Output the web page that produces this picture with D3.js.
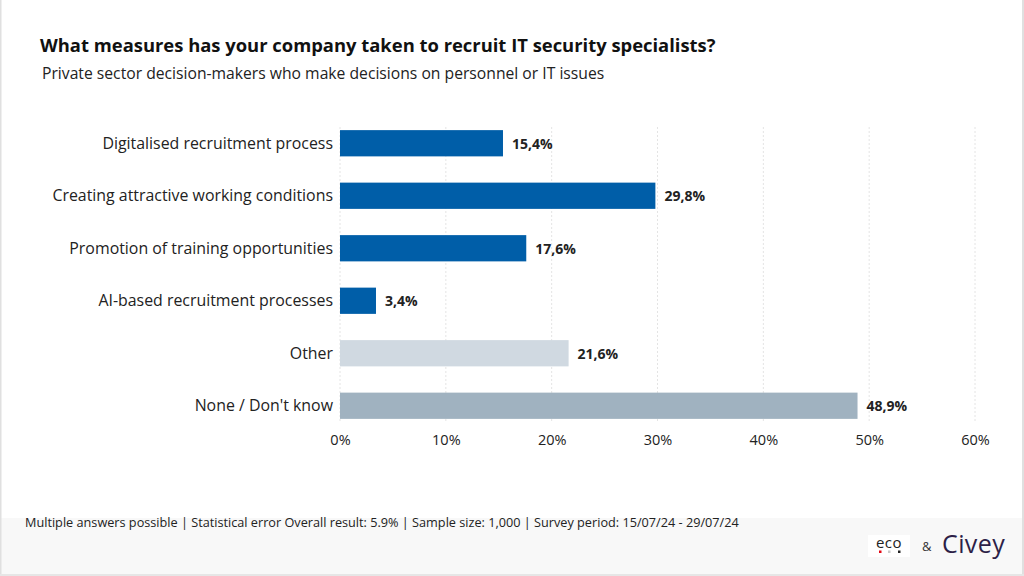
<!DOCTYPE html>
<html><head><meta charset="utf-8">
<script src="https://cdn.jsdelivr.net/npm/d3@7"></script>
<style>body{margin:0;background:#fff;}svg{display:block;font-family:"Open Sans",sans-serif;}</style>
</head><body><svg id="c" width="1024" height="576"></svg>
<script>
const categories = ["Digitalised recruitment process","Creating attractive working conditions","Promotion of training opportunities","AI-based recruitment processes","Other","None / Don't know"];
const values = [15.4, 29.8, 17.6, 3.4, 21.6, 48.9];
const valueLabels = ["15,4%","29,8%","17,6%","3,4%","21,6%","48,9%"];
const barColors = ["#005ea8","#005ea8","#005ea8","#005ea8","#d0d9e1","#a0b2c0"];
const ticks = [0,10,20,30,40,50,60];
const title = "What measures has your company taken to recruit IT security specialists?";
const subtitle = "Private sector decision-makers who make decisions on personnel or IT issues";
const footnote = "Multiple answers possible | Statistical error Overall result: 5.9% | Sample size: 1,000 | Survey period: 15/07/24 - 29/07/24";

const svg = d3.select("#c");
svg.append("rect").attr("x",0).attr("y",0).attr("width",1024).attr("height",576).attr("fill","#fff");
svg.append("rect").attr("x",0).attr("y",518).attr("width",1024).attr("height",58).attr("fill","#f8f8f8");
svg.append("rect").attr("x",0).attr("y",0).attr("width",1.5).attr("height",576).attr("fill","#e0e0e0");
svg.append("rect").attr("x",1022).attr("y",0).attr("width",2).attr("height",576).attr("fill","#e0e0e0");
svg.append("rect").attr("x",0).attr("y",574).attr("width",1024).attr("height",2).attr("fill","#e6e6e6");

svg.append("text").attr("x",40).attr("y",52).attr("font-size",18.4).attr("font-weight","bold").attr("fill","#111").text(title);
svg.append("text").attr("x",42).attr("y",79).attr("font-size",15.7).attr("fill","#222").text(subtitle);

const x = d3.scaleLinear().domain([0,60]).range([340,975]);
const y = d3.scaleBand().domain(categories).range([117,432]).paddingInner(0.5).paddingOuter(0.25);

svg.append("g").selectAll("line").data(ticks).join("line")
  .attr("x1",d=>x(d)).attr("x2",d=>x(d)).attr("y1",127).attr("y2",422)
  .attr("stroke","#e4e4e4").attr("stroke-width",1).attr("stroke-dasharray","2,2");

const axis = d3.axisBottom(x).tickValues(ticks).tickFormat(d=>d+"%").tickSize(0).tickPadding(0);
const ag = svg.append("g").attr("transform","translate(0,430)").call(axis);
ag.select(".domain").remove();
ag.selectAll("text").attr("font-size",14.5).attr("fill","#222").attr("font-family","'Open Sans',sans-serif").attr("dy","1em");

svg.append("g").selectAll("rect").data(values).join("rect")
  .attr("x",x(0)).attr("y",(d,i)=>y(categories[i])).attr("width",d=>x(d)-x(0)).attr("height",y.bandwidth())
  .attr("fill",(d,i)=>barColors[i]);

svg.append("g").selectAll("text").data(categories).join("text")
  .attr("x",333).attr("y",d=>y(d)+y.bandwidth()/2).attr("dy","0.35em").attr("text-anchor","end")
  .attr("font-size",15.9).attr("fill","#222").text(d=>d);

svg.append("g").selectAll("text").data(values).join("text")
  .attr("x",d=>x(d)+9).attr("y",(d,i)=>y(categories[i])+y.bandwidth()/2).attr("dy","0.4em")
  .attr("font-size",14).attr("font-weight","bold").attr("fill","#222").text((d,i)=>valueLabels[i]);

svg.append("text").attr("x",25).attr("y",527).attr("font-size",12.7).attr("fill","#222").text(footnote);

const lg = svg.append("g");
lg.append("rect").attr("x",868).attr("y",535).attr("width",42).attr("height",22).attr("fill","#fff");
lg.append("text").attr("x",889).attr("y",548).attr("text-anchor","middle").attr("font-size",15).attr("fill","#222").attr("letter-spacing",0.5).text("eco");
[["#e30613",879],["#c8c8c8",888],["#222",898]].forEach(([c,cx])=>lg.append("rect").attr("x",cx).attr("y",550.5).attr("width",2.5).attr("height",2.5).attr("fill",c));
lg.append("text").attr("x",922).attr("y",551).attr("font-size",13).attr("fill","#333").text("&");
lg.append("text").attr("x",942).attr("y",553).attr("font-size",25).attr("letter-spacing",0.4).attr("fill","#2d1f47").text("Civey");
</script></body></html>
